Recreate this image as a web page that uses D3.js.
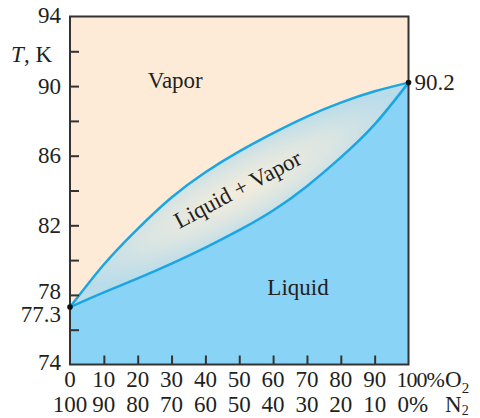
<!DOCTYPE html>
<html>
<head>
<meta charset="utf-8">
<script src="https://cdn.jsdelivr.net/npm/d3@7"></script>
<style>
  html, body { margin: 0; padding: 0; background: #ffffff; }
  svg { display: block; }
  text { font-family: "Liberation Serif", "DejaVu Serif", serif; fill: #231f20; }
</style>
</head>
<body>
<svg id="chart" width="480" height="418"></svg>
<script>
// ---- data ----
const xO2 = [0, 10, 20, 30, 40, 50, 60, 70, 80, 90, 100];         // % O2
const vaporT = [77.3, 79.75, 81.8, 83.6, 85.05, 86.25, 87.3, 88.25, 89.05, 89.7, 90.2];   // dew line, K
const liquidT = [77.3, 78.15, 78.95, 79.8, 80.72, 81.72, 82.85, 84.25, 85.9, 87.8, 90.2];  // bubble line, K
const yTickValues = [76, 78, 80, 82, 84, 86, 88, 90, 92];
const yLabelValues = [94, 90, 86, 82, 78, 74];
const xTickValues = [10, 20, 30, 40, 50, 60, 70, 80, 90];
const o2Labels = ["0", "10", "20", "30", "40", "50", "60", "70", "80", "90"];
const n2Labels = ["100", "90", "80", "70", "60", "50", "40", "30", "20", "10"];
const endPoints = [{x: 0, t: 77.3, label: "77.3"}, {x: 100, t: 90.2, label: "90.2"}];
const regionLabels = ["Vapor", "Liquid", "Liquid + Vapor"];

// ---- layout ----
const L = 70, R = 408.5, T = 16.5, B = 364.5;
const x = d3.scaleLinear().domain([0, 100]).range([L, R]);
const y = d3.scaleLinear().domain([74, 94]).range([B, T]);
const svg = d3.select("#chart");
const ink = "#333333";
const fs = 23;

const vap = xO2.map((v, i) => [v, vaporT[i]]);
const liq = xO2.map((v, i) => [v, liquidT[i]]);

// gradient for two-phase lens
const defs = svg.append("defs");
const g = defs.append("radialGradient").attr("id", "lens")
  .attr("gradientUnits", "userSpaceOnUse")
  .attr("cx", 0).attr("cy", 0).attr("r", 1)
  .attr("gradientTransform", `translate(${x(50)},${y(84)}) rotate(-28) scale(185,42)`);
g.append("stop").attr("offset", 0).attr("stop-color", "#f6eddc");
g.append("stop").attr("offset", 0.55).attr("stop-color", "#dbe5e2");
g.append("stop").attr("offset", 1).attr("stop-color", "#b9dcea");

// vapor background
svg.append("rect").attr("x", L).attr("y", T).attr("width", R - L).attr("height", B - T)
  .attr("fill", "#fdebd7");

const curve = d3.curveNatural;

// liquid region
svg.append("path")
  .datum(liq)
  .attr("d", d3.area().x(d => x(d[0])).y0(y(74)).y1(d => y(d[1])).curve(curve))
  .attr("fill", "#89d4f6");

// two-phase region
svg.append("path")
  .datum(xO2.map((v, i) => [v, vaporT[i], liquidT[i]]))
  .attr("d", d3.area().x(d => x(d[0])).y0(d => y(d[2])).y1(d => y(d[1])).curve(curve))
  .attr("fill", "url(#lens)");

// curves
const line = d3.line().x(d => x(d[0])).y(d => y(d[1])).curve(curve);
[vap, liq].forEach(d => {
  svg.append("path").datum(d).attr("d", line)
    .attr("fill", "none").attr("stroke", "#1aa6e4").attr("stroke-width", 2.5);
});

// ticks (inward)
const yAxis = svg.append("g").attr("transform", `translate(${L},0)`)
  .call(d3.axisRight(y).tickValues(yTickValues).tickSize(9).tickFormat(""));
const xAxis = svg.append("g").attr("transform", `translate(0,${B})`)
  .call(d3.axisTop(x).tickValues(xTickValues).tickSize(9).tickFormat(""));
[yAxis, xAxis].forEach(a => {
  a.select(".domain").remove();
  a.selectAll("line").attr("stroke", ink).attr("stroke-width", 2);
});

// frame
svg.append("rect").attr("x", L).attr("y", T).attr("width", R - L).attr("height", B - T)
  .attr("fill", "none").attr("stroke", ink).attr("stroke-width", 2);

// end points
svg.selectAll("circle.ep").data(endPoints).enter().append("circle")
  .attr("cx", d => x(d.x)).attr("cy", d => y(d.t)).attr("r", 2.8).attr("fill", "#111");

// y labels
const yl = svg.append("g").attr("font-size", fs);
yLabelValues.forEach(v => {
  const dy = v === 78 ? -3.5 : (v === 74 ? -2 : (v === 94 ? -1 : 0));
  yl.append("text").attr("x", L - 9).attr("y", y(v) + 7.5 + dy)
    .attr("text-anchor", "end").text(v);
});
yl.append("text").attr("x", L - 9).attr("y", y(endPoints[0].t) + 14.5)
  .attr("text-anchor", "end").text(endPoints[0].label);
yl.append("text").attr("x", R + 6).attr("y", y(endPoints[1].t) + 7)
  .text(endPoints[1].label);
// axis title
const tt = yl.append("text").attr("x", L - 18).attr("y", y(92) + 11).attr("text-anchor", "end");
tt.append("tspan").attr("font-style", "italic").text("T");
tt.append("tspan").text(", K");

// x labels
const xl = svg.append("g").attr("font-size", fs);
const row1 = B + 22.5, row2 = B + 47;
o2Labels.forEach((s, i) => {
  xl.append("text").attr("x", x(i * 10)).attr("y", row1).attr("text-anchor", "middle").text(s);
});
n2Labels.forEach((s, i) => {
  xl.append("text").attr("x", x(i * 10)).attr("y", row2).attr("text-anchor", "middle").text(s);
});
const t1 = xl.append("text").attr("x", x(100) - 12).attr("y", row1);
t1.append("tspan").attr("letter-spacing", -1).attr("font-size", 22).text("100%");
t1.append("tspan").attr("x", 445).text("O");
t1.append("tspan").attr("font-size", 15).attr("dy", 6).text("2");
const t2 = xl.append("text").attr("x", x(100) - 11).attr("y", row2);
t2.append("tspan").text("0%");
t2.append("tspan").attr("x", 445).text("N");
t2.append("tspan").attr("font-size", 14).attr("dy", 3.5).text("2");

// region labels
svg.append("text").attr("font-size", fs).attr("x", x(23)).attr("y", y(89.9)).text(regionLabels[0]);
svg.append("text").attr("font-size", fs).attr("x", x(58.3)).attr("y", y(78.0)).text(regionLabels[1]);
svg.append("text").attr("font-size", fs).attr("text-anchor", "middle")
  .attr("transform", `translate(${x(50.6)},${y(83.68)}) rotate(-28)`)
  .text(regionLabels[2]);
</script>
</body>
</html>
